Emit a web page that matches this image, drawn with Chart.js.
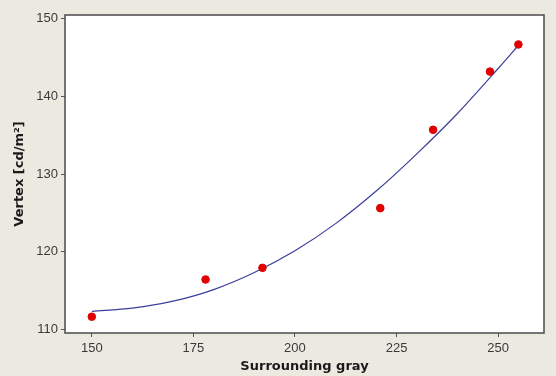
<!DOCTYPE html>
<html>
<head>
<meta charset="utf-8">
<script src="https://cdn.jsdelivr.net/npm/chart.js@4/dist/chart.umd.min.js"></script>
<style>
  html, body { margin: 0; padding: 0; background: #ECE9E1; }
  #wrap { width: 556px; height: 376px; }
</style>
</head>
<body>
<div id="wrap"><canvas id="c" width="556" height="376"></canvas></div>
<script>
// Measured data (Surrounding gray vs Vertex)
const grayValues   = [150, 178, 192, 221, 234, 248, 255];
const vertexValues = [111.6, 116.4, 117.9, 125.6, 135.7, 143.2, 146.7];

// Fitted curve
const fitGray   = [150, 160, 170, 180, 190, 200, 210, 220, 230, 240, 250, 255];
const fitVertex = [112.3, 112.7, 113.6, 115.1, 117.3, 120.1, 123.6, 127.8, 132.6, 137.8, 143.6, 146.6];

const xTicks = [150, 175, 200, 225, 250];
const yTicks = [110, 120, 130, 140, 150];

const xTitle = 'Surrounding gray';
const yTitle = 'Vertex [cd/m\u00B2]';

const pointData = grayValues.map((g, i) => ({ x: g, y: vertexValues[i] }));
const fitData = fitGray.map((g, i) => ({ x: g, y: fitVertex[i] }));

const framePlugin = {
  id: 'frame',
  beforeDraw(chart) {
    const { ctx, chartArea: a } = chart;
    ctx.save();
    ctx.fillStyle = '#ECE9E1';
    ctx.fillRect(0, 0, chart.width, chart.height);
    ctx.fillStyle = '#FFFFFF';
    ctx.fillRect(a.left, a.top, a.right - a.left, a.bottom - a.top);
    ctx.restore();
  },
  afterDraw(chart) {
    const { ctx, chartArea: a } = chart;
    ctx.save();
    ctx.strokeStyle = '#4a4a4a';
    ctx.lineWidth = 1.5;
    ctx.strokeRect(a.left, a.top, a.right - a.left, a.bottom - a.top);
    ctx.restore();
  }
};

new Chart(document.getElementById('c'), {
  type: 'scatter',
  data: {
    datasets: [
      {
        label: 'fit',
        data: fitData,
        showLine: true,
        borderColor: '#3a3f9a',
        borderWidth: 1.2,
        pointRadius: 0,
        cubicInterpolationMode: 'monotone',
        order: 2
      },
      {
        label: 'data',
        data: pointData,
        showLine: false,
        backgroundColor: '#e00000',
        borderColor: '#e00000',
        pointRadius: 3.8,
        order: 1
      }
    ]
  },
  options: {
    responsive: false,
    animation: false,
    devicePixelRatio: 1,
    layout: { padding: { left: 0, top: 15, right: 12, bottom: 0 } },
    plugins: {
      legend: { display: false },
      tooltip: { enabled: false }
    },
    scales: {
      x: {
        type: 'linear',
        min: 143.4,
        max: 261.3,
        afterBuildTicks(scale) { scale.ticks = xTicks.map(v => ({ value: v })); },
        afterFit(scale) { scale.height = 43; },
        grid: { display: true, drawOnChartArea: false, drawTicks: true, tickLength: 4, color: '#555' },
        border: { display: false },
        ticks: {
          padding: 4,
          maxRotation: 0,
          color: '#3a3a3a',
          font: { family: 'Liberation Sans', size: 13 }
        },
        title: {
          display: true,
          text: xTitle,
          color: '#1a1a1a',
          padding: { top: 0, bottom: 2 },
          font: { family: 'DejaVu Sans', size: 13, weight: 'bold' }
        }
      },
      y: {
        type: 'linear',
        min: 109.5,
        max: 150.5,
        afterBuildTicks(scale) { scale.ticks = yTicks.map(v => ({ value: v })); },
        afterFit(scale) { scale.width = 65; },
        grid: { display: true, drawOnChartArea: false, drawTicks: true, tickLength: 4, color: '#555' },
        border: { display: false },
        ticks: {
          padding: 3,
          color: '#3a3a3a',
          font: { family: 'Liberation Sans', size: 13 }
        },
        title: {
          display: true,
          text: yTitle,
          color: '#1a1a1a',
          padding: { top: 12, bottom: 0 },
          font: { family: 'DejaVu Sans', size: 13, weight: 'bold' }
        }
      }
    }
  },
  plugins: [framePlugin]
});
</script>
</body>
</html>
